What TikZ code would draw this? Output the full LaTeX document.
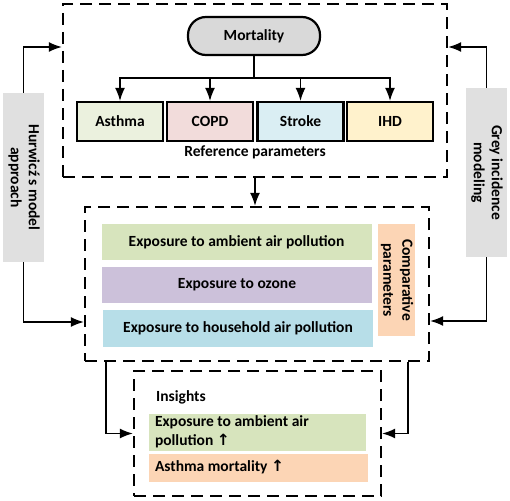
\documentclass[tikz,border=0pt]{standalone}
\usepackage{fontspec}
\setmainfont{Carlito}
\newfontfamily\arrowfont{DejaVu Sans}
\usetikzlibrary{arrows.meta,positioning}

\definecolor{mortgrey}{HTML}{D9D9D9}
\definecolor{sidegrey}{HTML}{E0E0E0}
\definecolor{asthmagreen}{HTML}{EBF1DE}
\definecolor{copdpink}{HTML}{F2DCDB}
\definecolor{strokeblue}{HTML}{DAEEF3}
\definecolor{ihdyellow}{HTML}{FFF2CC}
\definecolor{ambgreen}{HTML}{D7E4BD}
\definecolor{ozonepurple}{HTML}{CCC1DA}
\definecolor{houseblue}{HTML}{B7DEE8}
\definecolor{comporange}{HTML}{FCD5B5}

\tikzset{
  every node/.style={font=\fontsize{15.5}{18}\selectfont\bfseries},
  dashbox/.style={draw, line width=2.3pt, dash pattern=on 12pt off 7pt, inner sep=0pt},
  diseasebox/.style={draw, line width=2.2pt, minimum width=86, minimum height=39, inner sep=0pt},
  expbar/.style={minimum width=270, minimum height=36, inner sep=0pt},
  sidebar/.style={fill=sidegrey, minimum width=41, minimum height=169, inner sep=0pt},
  link/.style={line width=1.4pt, ->, >={Latex[length=13pt,width=10pt]}}
}

\begin{document}
\begin{tikzpicture}[x=1pt,y=-1pt]
    \useasboundingbox (0,0) rectangle (510,500);
    % reference parameters
    \node[dashbox, minimum width=384, minimum height=173] (refbox) at (255,90.5) {};
    \node[draw, line width=2.2pt, fill=mortgrey, rounded corners=18pt, minimum width=132, minimum height=38] (mort) at (254,36) {Mortality};
    \node[diseasebox, fill=asthmagreen] (asthma) at (120,121.5) {Asthma};
    \node[diseasebox, fill=copdpink] (copd) at (210,121.5) {COPD};
    \node[diseasebox, fill=strokeblue] (stroke) at (300.5,121.5) {Stroke};
    \node[diseasebox, fill=ihdyellow] (ihd) at (390,121.5) {IHD};
    \node (reflabel) at (255,152) {Reference parameters};
    \draw[line width=1.4pt] (mort.south) -- ++(0,22) coordinate (bus);
    \draw[link] (bus) -| (asthma.north);
    \draw[link] (bus) -| (copd.north);
    \draw[link] (bus) -| (stroke.north);
    \draw[link] (bus) -| (ihd.north);

    % comparative parameters
    \node[dashbox, minimum width=344, minimum height=154] (midbox) at (257,284) {};
    \node[expbar, fill=ambgreen] (amb) at (236.5,242) {Exposure to ambient air pollution};
    \node[expbar, fill=ozonepurple] (ozone) at (237,285) {Exposure to ozone};
    \node[expbar, fill=houseblue, minimum height=37] (house) at (238,328.5) {Exposure to household air pollution};
    \node[fill=comporange, minimum width=37, minimum height=112, inner sep=0pt] (comp) at (396.5,280)
        {\rotatebox{-90}{\begin{tabular}{@{}c@{}}Comparative\\[1pt]parameters\end{tabular}}};
    \draw[link] (refbox.south) -- (refbox.south |- midbox.north);

    % side methods
    \node[sidebar] (hurwicz) at (23.5,177.5)
        {\rotatebox{-90}{\begin{tabular}{@{}c@{}}Hurwicź s model\\[0pt]approach\end{tabular}}};
    \node[sidebar] (grey) at (486.5,172.5)
        {\rotatebox{-90}{\begin{tabular}{@{}c@{}}Grey incidence\\[0pt]modeling\end{tabular}}};
    \draw[link] (hurwicz.north) |- (refbox.west |- 0,47);
    \draw[link] (hurwicz.south) |- (midbox.west |- 0,322);
    \draw[link] (grey.north) |- (refbox.east |- 0,47);
    \draw[link] (grey.south) |- (midbox.east |- 0,321);

    % insights
    \node[dashbox, minimum width=247, minimum height=125] (insbox) at (257.5,433.5) {};
    \node[anchor=west, inner sep=0pt] (inslabel) at (156,397) {Insights};
    \node[fill=ambgreen, minimum width=217, minimum height=37, inner sep=0pt] (insamb) at (257.5,432.5)
        {\begin{tabular}{@{}p{205pt}@{}}Exposure to ambient air\\[1pt]pollution {\arrowfont\bfseries↑}\end{tabular}};
    \node[fill=comporange, minimum width=219, minimum height=28, inner sep=0pt] (insast) at (258.5,468)
        {\begin{tabular}{@{}p{207pt}@{}}Asthma mortality {\arrowfont\bfseries↑}\end{tabular}};
    \draw[link] ([xshift=22pt]midbox.south west) |- (insbox.west);
    \draw[link] ([xshift=-22pt]midbox.south east) |- (insbox.east);
\end{tikzpicture}
\end{document}
